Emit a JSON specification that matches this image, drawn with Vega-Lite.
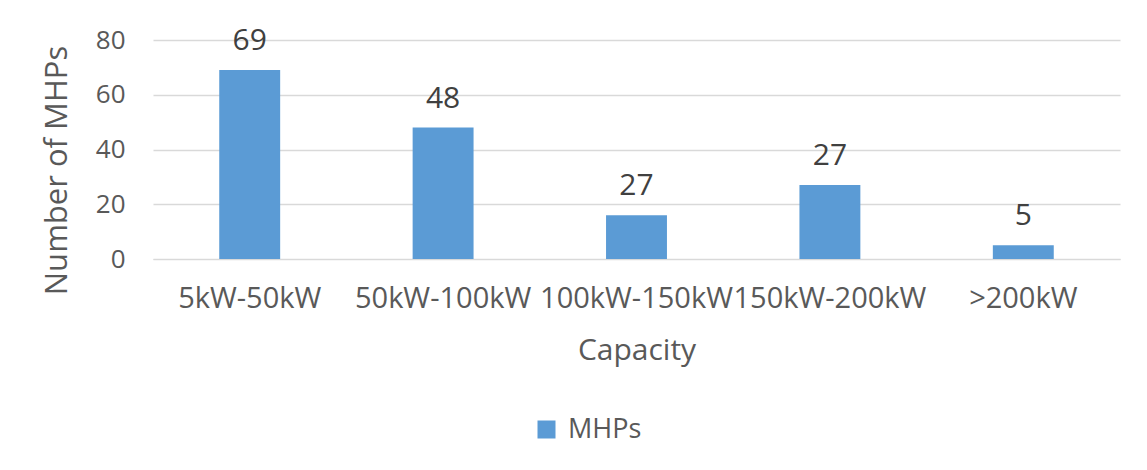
{
  "$schema": "https://vega.github.io/schema/vega-lite/v6.json",
  "width": 967,
  "height": 219,
  "autosize": {"type": "none"},
  "padding": {"left": 153, "top": 40, "right": 27, "bottom": 211},
  "background": "white",
  "config": {
    "font": "Open Sans",
    "view": {"stroke": null},
    "axis": {"labelColor": "#595959", "titleColor": "#595959", "labelFont": "Open Sans", "titleFont": "Open Sans", "titleFontWeight": "normal"}
  },
  "data": {
    "values": [
      {"Capacity": "5kW-50kW", "MHPs": 69, "label": "69", "series": "MHPs"},
      {"Capacity": "50kW-100kW", "MHPs": 48, "label": "48", "series": "MHPs"},
      {"Capacity": "100kW-150kW", "MHPs": 16, "label": "27", "series": "MHPs"},
      {"Capacity": "150kW-200kW", "MHPs": 27, "label": "27", "series": "MHPs"},
      {"Capacity": ">200kW", "MHPs": 5, "label": "5", "series": "MHPs"}
    ]
  },
  "encoding": {
    "x": {
      "field": "Capacity",
      "type": "nominal",
      "sort": null,
      "scale": {"paddingInner": 0, "paddingOuter": 0},
      "axis": {
        "title": "Capacity",
        "labelAngle": 0,
        "labelFontSize": 29,
        "labelPadding": 25,
        "titleFontSize": 30,
        "titlePadding": 22,
        "ticks": false,
        "domain": true,
        "domainColor": "#d9d9d9",
        "labelOverlap": false,
        "labelLimit": 0
      }
    },
    "y": {
      "field": "MHPs",
      "type": "quantitative",
      "scale": {"domain": [0, 80], "nice": false},
      "axis": {
        "title": "Number of MHPs",
        "values": [0, 20, 40, 60, 80],
        "labelFontSize": 26,
        "labelPadding": 28,
        "titleFontSize": 31,
        "titlePadding": 22,
        "titleY": 130,
        "ticks": false,
        "domain": false,
        "gridColor": "#d9d9d9",
        "gridWidth": 1.5
      }
    }
  },
  "layer": [
    {
      "mark": {"type": "bar", "width": {"band": 0.315}, "color": "#5B9BD5"},
      "encoding": {
        "color": {
          "field": "series",
          "type": "nominal",
          "scale": {"range": ["#5B9BD5"]},
          "legend": {
            "title": null,
            "orient": "none",
            "legendX": 380,
            "legendY": 376,
            "symbolType": "square",
            "symbolSize": 324,
            "symbolStrokeWidth": 0,
            "labelFontSize": 27,
            "labelColor": "#595959",
            "labelFont": "Open Sans",
            "labelOffset": 8
          }
        }
      }
    },
    {
      "mark": {"type": "text", "baseline": "bottom", "dy": -14, "fontSize": 30, "color": "#404040"},
      "encoding": {"text": {"field": "label"}}
    }
  ]
}
